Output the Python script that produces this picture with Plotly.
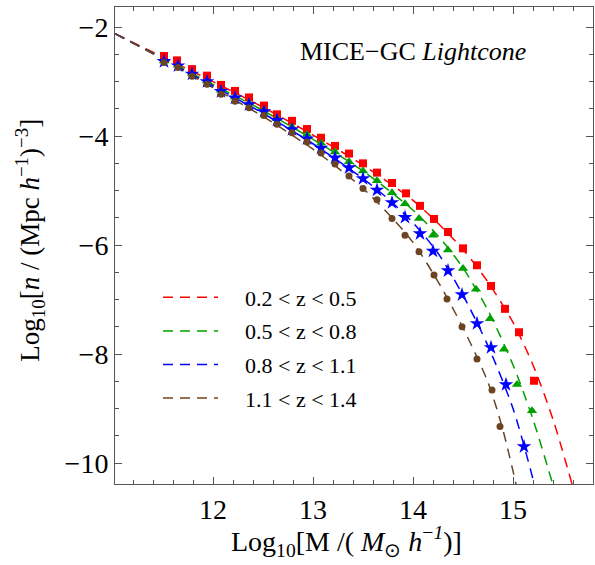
import plotly.graph_objects as go

# ---------------- data ----------------
labels = ["0.2 < z < 0.5", "0.5 < z < 0.8", "0.8 < z < 1.1", "1.1 < z < 1.4"]
colors = ["#ff0000", "#00a000", "#0000ff", "#6b4423"]

# simulation points (markers)
red_x = [11.51, 11.64, 11.79, 11.94, 12.08, 12.22, 12.36, 12.51, 12.64, 12.79, 12.94, 13.08, 13.22, 13.36,
         13.50, 13.64, 13.79, 13.93, 14.07, 14.21, 14.35, 14.50, 14.64, 14.78, 14.92, 15.06, 15.21]
red_y = [-2.53, -2.61, -2.77, -2.89, -3.06, -3.17, -3.29, -3.44, -3.60, -3.72, -3.87, -4.03, -4.18, -4.32,
         -4.50, -4.67, -4.86, -5.05, -5.28, -5.52, -5.76, -6.06, -6.37, -6.75, -7.17, -7.60, -8.49]

green_x = [11.51, 11.65, 11.79, 11.94, 12.08, 12.22, 12.36, 12.51, 12.64, 12.79, 12.94, 13.08, 13.22, 13.36,
           13.50, 13.64, 13.79, 13.92, 14.06, 14.20, 14.35, 14.50, 14.63, 14.77, 14.91, 15.04, 15.19]
green_y = [-2.62, -2.70, -2.85, -2.99, -3.16, -3.28, -3.39, -3.52, -3.68, -3.83, -3.97, -4.13, -4.29, -4.47,
           -4.64, -4.82, -5.04, -5.24, -5.51, -5.82, -6.09, -6.43, -6.81, -7.35, -7.91, -8.56, -9.04]

blue_x = [11.51, 11.65, 11.79, 11.94, 12.08, 12.22, 12.36, 12.51, 12.64, 12.79, 12.94, 13.08, 13.22, 13.36,
          13.50, 13.64, 13.79, 13.92, 14.07, 14.20, 14.35, 14.49, 14.64, 14.78, 14.93, 15.11]
blue_y = [-2.63, -2.71, -2.86, -3.00, -3.18, -3.30, -3.42, -3.55, -3.71, -3.88, -4.05, -4.22, -4.40, -4.58,
          -4.78, -4.99, -5.22, -5.49, -5.79, -6.11, -6.47, -6.91, -7.44, -7.88, -8.56, -9.70]

brown_x = [11.51, 11.65, 11.79, 11.94, 12.08, 12.22, 12.36, 12.51, 12.64, 12.79, 12.94, 13.08, 13.22, 13.36,
           13.50, 13.64, 13.79, 13.92, 14.06, 14.21, 14.34, 14.49, 14.64, 14.79, 14.87]
brown_y = [-2.65, -2.74, -2.90, -3.05, -3.23, -3.36, -3.48, -3.62, -3.78, -3.94, -4.11, -4.31, -4.51, -4.73,
           -4.96, -5.17, -5.51, -5.82, -6.12, -6.55, -6.99, -7.50, -8.09, -8.66, -9.33]

# theory curves (dashed)
red_cx = [11.02, 11.5, 12.0, 12.5, 13.0, 13.5, 14.0, 14.25, 14.5, 14.75, 15.0, 15.2, 15.4, 15.59]
red_cy = [-2.12, -2.55, -3.00, -3.47, -3.98, -4.53, -5.18, -5.60, -6.08, -6.68, -7.42, -8.20, -9.20, -10.385]

green_cx = [11.02, 11.5, 12.0, 12.5, 13.0, 13.5, 14.0, 14.25, 14.5, 14.75, 15.0, 15.2, 15.397]
green_cy = [-2.12, -2.57, -3.05, -3.53, -4.06, -4.64, -5.36, -5.83, -6.42, -7.20, -8.20, -9.20, -10.385]

blue_cx = [11.02, 11.5, 12.0, 12.5, 13.0, 13.5, 13.75, 14.0, 14.25, 14.5, 14.75, 15.0, 15.213]
blue_cy = [-2.12, -2.58, -3.08, -3.58, -4.14, -4.78, -5.15, -5.59, -6.15, -6.92, -7.85, -9.00, -10.385]

brown_cx = [11.02, 11.5, 12.0, 12.5, 13.0, 13.5, 13.75, 14.0, 14.25, 14.5, 14.75, 14.9, 15.03]
brown_cy = [-2.12, -2.59, -3.11, -3.64, -4.24, -4.96, -5.42, -5.95, -6.67, -7.52, -8.52, -9.40, -10.385]

xticks = [12, 13, 14, 15]
yticks = [-2, -4, -6, -8, -10]

# ---------------- figure ----------------
FONT = "Liberation Serif"
fig = go.Figure()

curves = [(red_cx, red_cy), (green_cx, green_cy), (blue_cx, blue_cy), (brown_cx, brown_cy)]
points = [(red_x, red_y), (green_x, green_y), (blue_x, blue_y), (brown_x, brown_y)]
symbols = ["square", "triangle-up", "star", "circle"]
sizes = [8, 9, 11, 7]
PAD = "\u00a0" * 4  # gap between the legend line sample and its label

for i, ((cx, cy), lab, col) in enumerate(zip(curves, labels, colors)):
    fig.add_trace(go.Scatter(x=cx, y=cy, mode="lines", name=PAD + lab, legendgroup="g%d" % i,
                             line=dict(color=col, width=1.5, dash="10px,7px", shape="spline", smoothing=0.8)))

for (px, py), col, sym, sz in zip(points, colors, symbols, sizes):
    fig.add_trace(go.Scatter(x=px, y=py, mode="markers", showlegend=False,
                             marker=dict(color=col, symbol=sym, size=sz, line=dict(width=0))))

axis_common = dict(showgrid=False, zeroline=False, showline=True, linecolor="#555555", linewidth=1,
                   mirror="allticks", ticks="inside", ticklen=7, tickcolor="#555555", tickwidth=1,
                   tickfont=dict(family=FONT, size=28, color="black"))

fig.update_xaxes(range=[11.02, 15.8], tickvals=xticks, ticktext=[str(v) for v in xticks],
                 minor=dict(dtick=0.2, tick0=11, ticks="inside", ticklen=4, tickcolor="#555555"),
                 **axis_common)
fig.update_yaxes(range=[-10.385, -1.63], tickvals=yticks, ticktext=["\u2212" + str(abs(v)) for v in yticks],
                 minor=dict(dtick=0.5, tick0=0, ticks="inside", ticklen=4, tickcolor="#555555"),
                 **axis_common)

fig.update_layout(
    width=595, height=565,
    margin=dict(l=115, r=2, t=7, b=81),
    plot_bgcolor="white", paper_bgcolor="white",
    font=dict(family=FONT, color="black"),
    legend=dict(x=0.09, y=0.435, xanchor="left", yanchor="top", bgcolor="rgba(0,0,0,0)",
                font=dict(family=FONT, size=22, color="black"), itemwidth=55, tracegroupgap=2),
    annotations=[
        dict(text="MICE\u2212GC <i>Lightcone</i>", x=0.623, y=0.906, xref="paper", yref="paper",
             xanchor="center", yanchor="middle", showarrow=False,
             font=dict(family=FONT, size=26, color="black")),
        dict(text="Log<sub>10</sub>[M /( <i>M</i><sub>\u2299</sub> <i>h</i><sup>\u2212<i>1</i></sup>)]",
             x=0.485, y=-0.166, xref="paper", yref="paper", xanchor="center", yanchor="bottom",
             showarrow=False, font=dict(family=FONT, size=28, color="black")),
        dict(text="Log<sub>10</sub>[<i>n</i> / (Mpc <i>h</i><sup>\u22121</sup>)<sup>\u22123</sup>]",
             x=-0.178, y=0.512, xref="paper", yref="paper", xanchor="center", yanchor="middle",
             showarrow=False, textangle=-90,
             font=dict(family=FONT, size=27, color="black")),
    ],
)

fig.write_html("out.html")
